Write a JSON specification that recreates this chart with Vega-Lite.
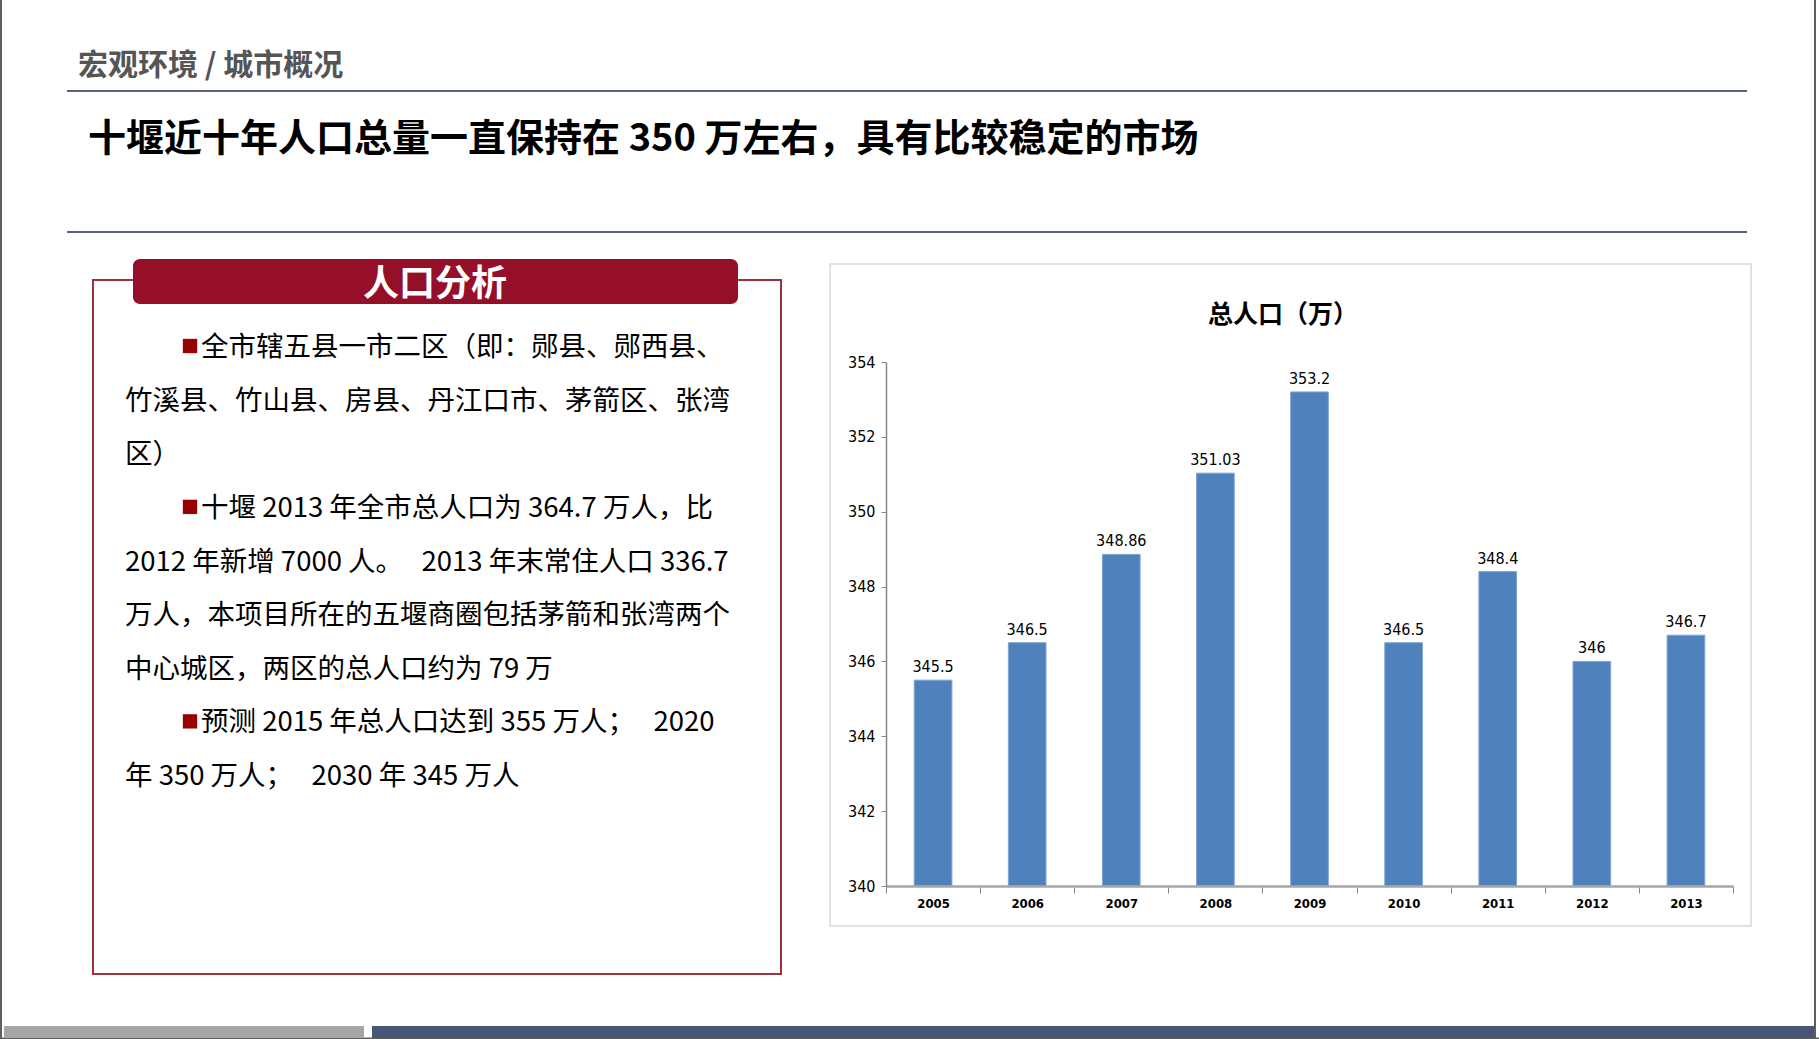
{
  "$schema": "https://vega.github.io/schema/vega-lite/v6.json",
  "autosize": {"type": "none"},
  "padding": {"left": 886, "top": 362, "right": 86, "bottom": 153},
  "width": 847,
  "height": 524,
  "background": "white",
  "config": {"view": {"stroke": "transparent"}, "font": "Noto Sans CJK SC"},
  "layer": [
    {
      "data": {"values": [{"t": "宏观环境 / 城市概况", "h": "十堰近十年人口总量一直保持在 350 万左右，具有比较稳定的市场", "box": "人口分析", "ct": "总人口（万）"}]},
      "layer": [
        {
          "mark": {"type": "rule", "color": "#5f5f5f", "strokeWidth": 2},
          "encoding": {
            "x": {"datum": 1, "type": "quantitative", "scale": {"domain": [886, 1733], "range": [0, 847], "nice": false, "zero": false}, "axis": null},
            "y": {"datum": 0, "type": "quantitative", "scale": {"domain": [362, 886], "range": [0, 524], "nice": false, "zero": false}, "axis": null},
            "y2": {"datum": 1039}
          }
        },
        {
          "mark": {"type": "rule", "color": "#5f5f5f", "strokeWidth": 2},
          "encoding": {
            "x": {"datum": 1815, "type": "quantitative"},
            "y": {"datum": 0, "type": "quantitative"},
            "y2": {"datum": 1039}
          }
        },
        {
          "mark": {"type": "rule", "color": "#5f5f5f", "strokeWidth": 1.5},
          "encoding": {
            "x": {"datum": 0, "type": "quantitative"},
            "x2": {"datum": 1819},
            "y": {"datum": 1038.3, "type": "quantitative"}
          }
        },
        {
          "mark": {"type": "text", "align": "left", "baseline": "middle", "fontSize": 30, "fontWeight": "bold", "color": "#555555"},
          "encoding": {
            "x": {"datum": 78, "type": "quantitative"},
            "y": {"datum": 66, "type": "quantitative"},
            "text": {"field": "t"}
          }
        },
        {
          "mark": {"type": "rule", "color": "#56627c", "strokeWidth": 2},
          "encoding": {
            "x": {"datum": 67, "type": "quantitative"},
            "x2": {"datum": 1747},
            "y": {"datum": 91, "type": "quantitative"}
          }
        },
        {
          "mark": {"type": "text", "align": "left", "baseline": "middle", "fontSize": 38, "fontWeight": "bold", "color": "#000000"},
          "encoding": {
            "x": {"datum": 88, "type": "quantitative"},
            "y": {"datum": 140, "type": "quantitative"},
            "text": {"field": "h"}
          }
        },
        {
          "mark": {"type": "rule", "color": "#56627c", "strokeWidth": 2},
          "encoding": {
            "x": {"datum": 67, "type": "quantitative"},
            "x2": {"datum": 1747},
            "y": {"datum": 232, "type": "quantitative"}
          }
        },
        {
          "mark": {"type": "rect", "fill": "transparent", "stroke": "#a03040", "strokeWidth": 2},
          "encoding": {
            "x": {"datum": 93, "type": "quantitative"},
            "x2": {"datum": 781},
            "y": {"datum": 280, "type": "quantitative"},
            "y2": {"datum": 974}
          }
        },
        {
          "mark": {"type": "rect", "fill": "#960f28", "cornerRadius": 7},
          "encoding": {
            "x": {"datum": 133, "type": "quantitative"},
            "x2": {"datum": 738},
            "y": {"datum": 259, "type": "quantitative"},
            "y2": {"datum": 304}
          }
        },
        {
          "mark": {"type": "text", "align": "center", "baseline": "middle", "fontSize": 36, "fontWeight": "bold", "color": "#ffffff"},
          "encoding": {
            "x": {"datum": 435, "type": "quantitative"},
            "y": {"datum": 285, "type": "quantitative"},
            "text": {"field": "box"}
          }
        },
        {
          "mark": {"type": "rect", "fill": "#ffffff", "stroke": "#d9d9d9", "strokeWidth": 1.5},
          "encoding": {
            "x": {"datum": 830, "type": "quantitative"},
            "x2": {"datum": 1751},
            "y": {"datum": 264, "type": "quantitative"},
            "y2": {"datum": 926}
          }
        },
        {
          "mark": {"type": "text", "align": "center", "baseline": "middle", "fontSize": 25, "fontWeight": "bold", "color": "#000000"},
          "encoding": {
            "x": {"datum": 1283, "type": "quantitative"},
            "y": {"datum": 315, "type": "quantitative"},
            "text": {"field": "ct"}
          }
        },
        {
          "mark": {"type": "rect", "fill": "#a6a6a6"},
          "encoding": {
            "x": {"datum": 4, "type": "quantitative"},
            "x2": {"datum": 364},
            "y": {"datum": 1026, "type": "quantitative"},
            "y2": {"datum": 1038}
          }
        },
        {
          "mark": {"type": "rect", "fill": "#475677"},
          "encoding": {
            "x": {"datum": 372, "type": "quantitative"},
            "x2": {"datum": 1814},
            "y": {"datum": 1026, "type": "quantitative"},
            "y2": {"datum": 1038}
          }
        }
      ]
    },
    {
      "data": {
        "values": [
          {"line": 1, "bullet": true, "text": "全市辖五县一市二区（即：郧县、郧西县、"},
          {"line": 2, "bullet": false, "text": "竹溪县、竹山县、房县、丹江口市、茅箭区、张湾"},
          {"line": 3, "bullet": false, "text": "区）"},
          {"line": 4, "bullet": true, "text": "十堰 2013 年全市总人口为 364.7 万人，比"},
          {"line": 5, "bullet": false, "text": "2012 年新增 7000 人。\u00a0\u00a0\u00a02013 年末常住人口 336.7"},
          {"line": 6, "bullet": false, "text": "万人，本项目所在的五堰商圈包括茅箭和张湾两个"},
          {"line": 7, "bullet": false, "text": "中心城区，两区的总人口约为 79 万"},
          {"line": 8, "bullet": true, "text": "预测 2015 年总人口达到 355 万人；\u00a0\u00a0\u00a02020"},
          {"line": 9, "bullet": false, "text": "年 350 万人；\u00a0\u00a0\u00a02030 年 345 万人"}
        ]
      },
      "layer": [
        {
          "transform": [{"filter": "datum.bullet"}],
          "mark": {"type": "point", "shape": "square", "filled": true, "size": 205, "color": "#990000", "opacity": 1},
          "encoding": {
            "x": {"datum": 190, "type": "quantitative", "scale": {"domain": [886, 1733], "range": [0, 847], "nice": false, "zero": false}, "axis": null},
            "y": {"field": "line", "type": "quantitative", "scale": {"domain": [1, 9], "range": [-16, 413], "nice": false, "zero": false}, "axis": null}
          }
        },
        {
          "transform": [{"filter": "datum.bullet"}],
          "mark": {"type": "text", "align": "left", "baseline": "middle", "fontSize": 27.5, "color": "#000000", "dy": 2},
          "encoding": {
            "x": {"datum": 201, "type": "quantitative"},
            "y": {"field": "line", "type": "quantitative"},
            "text": {"field": "text"}
          }
        },
        {
          "transform": [{"filter": "!datum.bullet"}],
          "mark": {"type": "text", "align": "left", "baseline": "middle", "fontSize": 27.5, "color": "#000000", "dy": 2},
          "encoding": {
            "x": {"datum": 125, "type": "quantitative"},
            "y": {"field": "line", "type": "quantitative"},
            "text": {"field": "text"}
          }
        }
      ]
    },
    {
      "data": {
        "values": [
          {"year": "2005", "pop": 345.5},
          {"year": "2006", "pop": 346.5},
          {"year": "2007", "pop": 348.86},
          {"year": "2008", "pop": 351.03},
          {"year": "2009", "pop": 353.2},
          {"year": "2010", "pop": 346.5},
          {"year": "2011", "pop": 348.4},
          {"year": "2012", "pop": 346},
          {"year": "2013", "pop": 346.7}
        ]
      },
      "encoding": {
        "x": {
          "field": "year",
          "type": "ordinal",
          "scale": {"paddingInner": 0, "paddingOuter": 0},
          "axis": {
            "orient": "bottom",
            "zindex": 2,
            "title": null,
            "labelAngle": 0,
            "tickBand": "extent",
            "tickSize": 7,
            "tickColor": "#868686",
            "domainColor": "#a6a6a6",
            "domainWidth": 2.5,
            "labelFont": "Liberation Sans Narrow, DejaVu Sans Condensed, sans-serif",
            "labelFontSize": 13,
            "labelFontWeight": "bold",
            "labelColor": "#000000",
            "labelPadding": 4
          }
        },
        "y": {
          "field": "pop",
          "type": "quantitative",
          "scale": {"domain": [340, 354], "nice": false, "zero": false, "clamp": true},
          "axis": {
            "orient": "left",
            "zindex": 2,
            "title": null,
            "grid": false,
            "values": [340, 342, 344, 346, 348, 350, 352, 354],
            "tickSize": 5,
            "tickColor": "#868686",
            "domainColor": "#868686",
            "domainWidth": 1.5,
            "labelFont": "Liberation Sans Narrow, DejaVu Sans Condensed, sans-serif",
            "labelFontSize": 16,
            "labelColor": "#000000",
            "labelPadding": 6
          }
        }
      },
      "layer": [
        {
          "mark": {"type": "bar", "color": "#4f81bd", "width": {"band": 0.4}, "stroke": "#7ea3d3", "strokeWidth": 1}
        },
        {
          "mark": {"type": "text", "baseline": "bottom", "dy": -5, "fontSize": 16, "font": "Liberation Sans Narrow, DejaVu Sans Condensed, sans-serif", "color": "#000000"},
          "encoding": {"text": {"field": "pop", "type": "quantitative"}}
        }
      ]
    }
  ],
  "resolve": {"scale": {"x": "independent", "y": "independent"}}
}
